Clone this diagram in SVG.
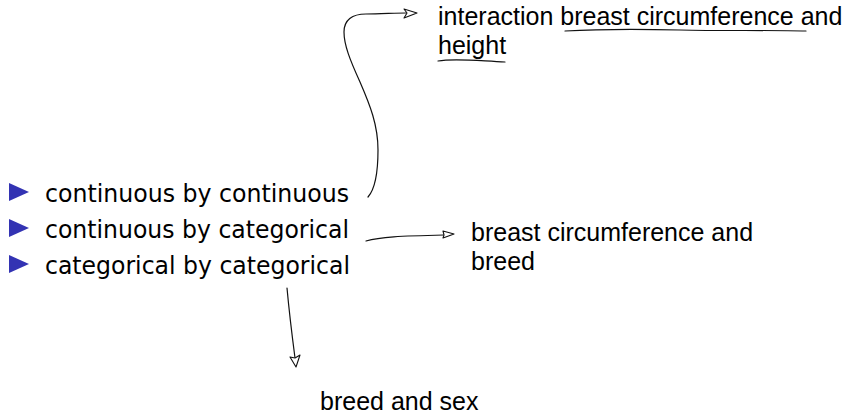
<svg xmlns="http://www.w3.org/2000/svg" width="852" height="418" viewBox="0 0 852 418">
<style>
.item{font-family:"DejaVu Sans",sans-serif;font-size:24px;fill:#000}
.lbl{font-family:"Liberation Sans",Arial,sans-serif;font-size:25px;fill:#000}
.bul{fill:#3333b3}
.ink{fill:none;stroke:#111;stroke-width:1.2;stroke-linecap:round;stroke-linejoin:round}
.head{fill:#fff;stroke:#111;stroke-width:1.1;stroke-linejoin:round}
</style>
<rect width="852" height="418" fill="#fff"/>
<g id="list">
  <g id="item1"><polygon class="bul" points="9,183 29,192 9,201"/><text class="item" x="45" y="202" textLength="304" lengthAdjust="spacingAndGlyphs">continuous by continuous</text></g>
  <g id="item2"><polygon class="bul" points="9,219 29,228 9,237"/><text class="item" x="45" y="238" textLength="304" lengthAdjust="spacingAndGlyphs">continuous by categorical</text></g>
  <g id="item3"><polygon class="bul" points="9,255 29,264 9,273"/><text class="item" x="45" y="274" textLength="305" lengthAdjust="spacingAndGlyphs">categorical by categorical</text></g>
</g>
<g id="interaction">
  <text class="lbl" x="438" y="25">interaction breast circumference and</text>
  <text class="lbl" x="438" y="54">height</text>
  <path class="ink" d="M565,31 C600,29 640,29 680,30 C720,31 770,30 806,31"/>
  <path class="ink" d="M438,61 C455,58 480,61 505,62"/>
</g>
<g id="cat-cont">
  <text class="lbl" x="471" y="241">breast circumference and</text>
  <text class="lbl" x="471" y="270">breed</text>
</g>
<g id="cat-cat">
  <text class="lbl" x="320" y="410">breed and sex</text>
</g>
<g id="connectors">
  <path class="ink" d="M368,197 C376,188 378,170 378,150 C378,125 370,105 360,82 C350,60 344,45 344,32 C344,20 352,14 366,14 C380,14 395,13 406,13"/>
  <polygon class="head" points="417,13 404,9 407,13 404,18"/>
  <path class="ink" d="M366,241 C380,237 400,236 444,235"/>
  <polygon class="head" points="454,234 443,231 444,235 443,238"/>
  <path class="ink" d="M287,288 C289,310 292,335 295,358"/>
  <polygon class="head" points="296,367 290,357 295,358 300,355"/>
</g>
</svg>
